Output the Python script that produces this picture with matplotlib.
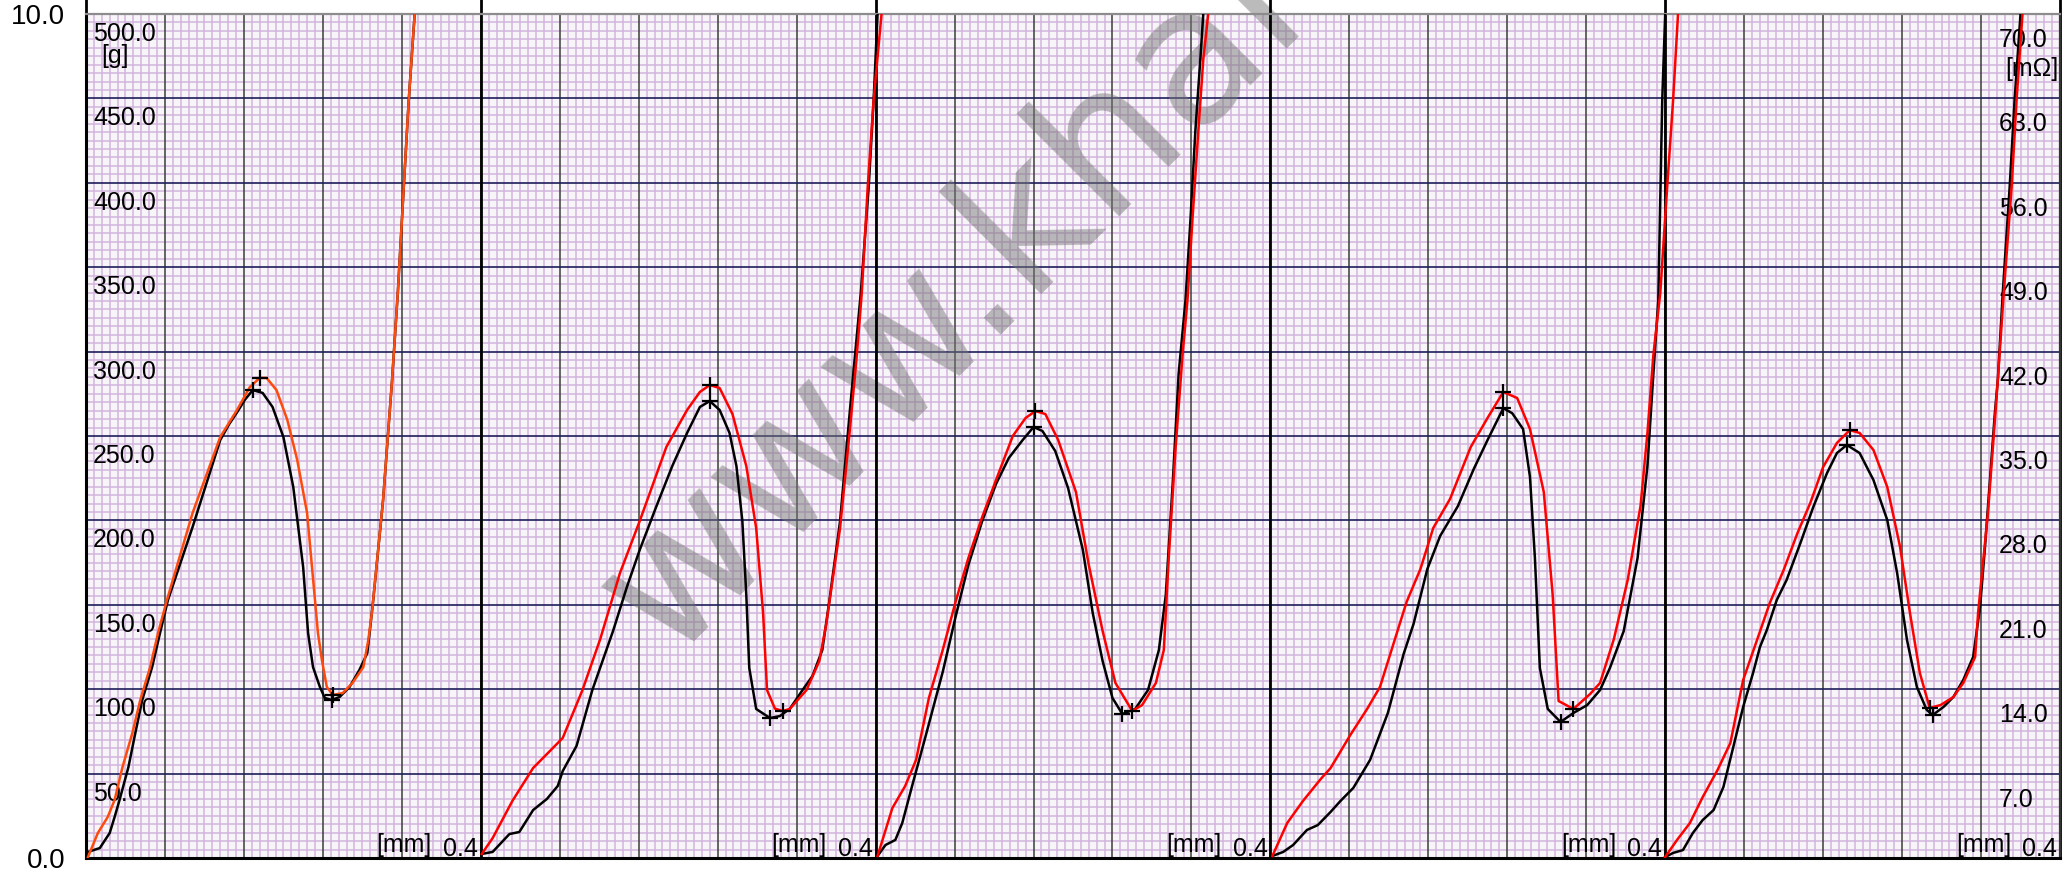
"""Five-cycle force / contact-resistance trace on millimetre paper.

Output: out.png (2067 x 877)
"""

import matplotlib.pyplot as plt
import numpy as np
from matplotlib.ticker import FuncFormatter, MultipleLocator

W, H, DPI = 2067, 877, 100
PANEL_MM = 0.4

# ---- data: stroke [mm] vs force [g], one black and one red trace per panel ----
P1_BLACK_X = [0.002, 0.014, 0.024, 0.029, 0.034, 0.043, 0.050, 0.057, 0.067, 0.075, 0.083, 0.108, 0.136,
              0.145, 0.153, 0.161, 0.169, 0.179, 0.189, 0.200, 0.210, 0.220, 0.225, 0.230, 0.237, 0.242,
              0.249, 0.257, 0.267, 0.277, 0.285, 0.288, 0.291, 0.301, 0.310, 0.316, 0.322, 0.327, 0.333]
P1_BLACK_Y = [3.6, 5.9, 14.8, 24.3, 34.4, 53.9, 74.1, 93.6, 113.1, 133.3, 152.8, 196.1, 247.6,
              257.0, 264.0, 271.5, 277.2, 275.5, 267.2, 249.4, 219.8, 172.4, 133.3, 113.1, 101.3, 94.8,
              93.6, 95.4, 101.3, 111.4, 121.4, 136.8, 152.8, 212.1, 282.3, 335.7, 398.1, 449.0, 500.0]
P1_RED_X = [0.002, 0.012, 0.022, 0.029, 0.037, 0.047, 0.055, 0.065, 0.073, 0.082, 0.108, 0.136, 0.153,
            0.166, 0.176, 0.183, 0.193, 0.204, 0.214, 0.224, 0.232, 0.235, 0.239, 0.244, 0.250, 0.260,
            0.270, 0.281, 0.286, 0.290, 0.293, 0.301, 0.310, 0.316, 0.322, 0.327, 0.333]
P1_RED_Y = [0.6, 14.8, 24.3, 34.4, 53.9, 74.1, 93.6, 113.1, 133.3, 152.8, 204.4, 249.4, 265.4,
            279.0, 284.4, 284.4, 277.2, 259.5, 235.8, 204.4, 152.8, 133.3, 117.3, 101.3, 96.6, 97.7,
            103.7, 113.1, 129.1, 146.9, 165.0, 212.1, 282.3, 335.7, 398.1, 449.0, 500.0]

P2_BLACK_X = [0.001, 0.012, 0.029, 0.039, 0.053, 0.067, 0.078, 0.083, 0.097, 0.113, 0.134, 0.148, 0.161,
              0.178, 0.194, 0.209, 0.222, 0.232, 0.242, 0.252, 0.259, 0.265, 0.269, 0.272, 0.279, 0.293,
              0.303, 0.313, 0.326, 0.336, 0.346, 0.353, 0.364, 0.374, 0.385, 0.393, 0.398, 0.402]
P2_BLACK_Y = [2.4, 3.6, 14.2, 15.4, 28.4, 35.0, 42.7, 51.5, 66.4, 99.5, 134.5, 160.5, 182.5,
              208.5, 232.2, 251.8, 267.2, 270.7, 265.4, 251.8, 232.2, 199.6, 155.8, 112.6, 88.3, 82.9,
              84.1, 88.3, 99.5, 107.8, 123.2, 151.7, 199.6, 265.4, 334.7, 397.5, 449.0, 500.0]
P2_RED_X = [0.001, 0.012, 0.032, 0.053, 0.083, 0.103, 0.121, 0.141, 0.161, 0.188, 0.209, 0.222, 0.232,
            0.242, 0.255, 0.269, 0.279, 0.286, 0.290, 0.298, 0.306, 0.313, 0.330, 0.343, 0.350, 0.364,
            0.374, 0.381, 0.386, 0.392, 0.398, 0.406]
P2_RED_Y = [2.4, 11.8, 33.8, 53.3, 71.1, 99.5, 129.7, 168.8, 199.6, 243.5, 265.4, 276.1, 280.2,
            278.4, 263.0, 232.2, 195.5, 145.1, 99.5, 88.5, 87.1, 88.3, 99.5, 116.7, 138.6, 195.5,
            254.1, 298.0, 334.7, 397.5, 449.0, 500.0]

P3_BLACK_X = [0.002, 0.010, 0.020, 0.027, 0.037, 0.051, 0.068, 0.081, 0.094, 0.108, 0.122, 0.135, 0.149,
              0.160, 0.169, 0.182, 0.195, 0.210, 0.220, 0.230, 0.240, 0.250, 0.263, 0.276, 0.287, 0.294,
              0.301, 0.307, 0.314, 0.319, 0.324, 0.329, 0.332]
P3_BLACK_Y = [1.2, 7.7, 10.7, 20.7, 42.7, 72.9, 110.2, 142.8, 173.6, 199.6, 221.6, 237.0, 247.6,
              255.3, 253.0, 241.1, 219.2, 182.5, 145.1, 116.7, 94.8, 85.3, 88.3, 99.5, 123.2, 155.8,
              221.6, 286.7, 330.6, 378.0, 431.0, 473.0, 500.0]
P3_RED_X = [0.002, 0.017, 0.030, 0.041, 0.054, 0.068, 0.081, 0.094, 0.108, 0.122, 0.139, 0.152, 0.162,
            0.172, 0.185, 0.203, 0.216, 0.230, 0.243, 0.260, 0.270, 0.284, 0.292, 0.297, 0.304, 0.311,
            0.316, 0.321, 0.327, 0.332, 0.337]
P3_RED_Y = [1.2, 29.6, 42.7, 58.1, 94.8, 123.2, 151.7, 177.7, 202.0, 223.9, 250.0, 260.7, 264.8,
            263.0, 247.6, 216.8, 173.6, 134.5, 103.7, 87.1, 90.6, 103.7, 123.2, 177.7, 243.5, 298.0,
            330.6, 378.0, 431.0, 473.0, 500.0]

P4_BLACK_X = [0.002, 0.013, 0.023, 0.037, 0.048, 0.061, 0.071, 0.084, 0.101, 0.119, 0.135, 0.145, 0.159,
              0.172, 0.190, 0.206, 0.220, 0.236, 0.245, 0.256, 0.263, 0.268, 0.273, 0.281, 0.294, 0.307,
              0.321, 0.334, 0.344, 0.358, 0.372, 0.382, 0.388, 0.393, 0.395, 0.397, 0.400]
P4_BLACK_Y = [1.2, 3.6, 7.7, 16.6, 19.5, 27.3, 33.8, 41.5, 58.1, 85.9, 120.9, 138.6, 171.2,
              190.8, 208.5, 230.4, 247.6, 266.5, 263.5, 254.1, 225.7, 177.7, 112.6, 88.3, 80.6, 85.9,
              90.6, 99.5, 112.6, 134.5, 177.7, 232.2, 286.7, 330.6, 390.0, 449.0, 500.0]
P4_RED_X = [0.002, 0.017, 0.033, 0.051, 0.061, 0.081, 0.098, 0.111, 0.124, 0.138, 0.152, 0.165, 0.182,
            0.203, 0.220, 0.236, 0.250, 0.263, 0.277, 0.286, 0.292, 0.307, 0.324, 0.334, 0.348, 0.362,
            0.375, 0.382, 0.388, 0.395, 0.402, 0.408, 0.413]
P4_RED_Y = [1.2, 20.7, 33.8, 46.8, 53.3, 72.9, 88.3, 101.3, 125.6, 151.7, 171.2, 195.5, 212.7,
            243.5, 260.7, 276.1, 272.5, 254.1, 216.8, 155.8, 93.0, 88.3, 97.2, 103.7, 129.7, 164.7,
            208.5, 251.8, 298.0, 334.7, 397.5, 449.0, 500.0]

P5_BLACK_X = [0.000, 0.008, 0.018, 0.028, 0.038, 0.049, 0.059, 0.069, 0.079, 0.089, 0.096, 0.103, 0.113,
              0.123, 0.137, 0.150, 0.164, 0.174, 0.184, 0.197, 0.211, 0.225, 0.235, 0.245, 0.255, 0.265,
              0.271, 0.282, 0.292, 0.302, 0.312, 0.319, 0.324, 0.329, 0.334, 0.337, 0.342, 0.349, 0.354,
              0.360]
P5_BLACK_Y = [0.6, 3.0, 4.7, 14.8, 22.5, 28.4, 42.1, 65.8, 89.5, 109.6, 125.0, 135.1, 152.8,
              164.7, 186.6, 207.9, 228.1, 239.9, 244.7, 239.9, 223.9, 200.2, 168.8, 129.1, 101.3, 87.7,
              84.7, 89.5, 95.4, 105.5, 119.1, 148.7, 184.2, 223.9, 263.6, 283.2, 334.7, 397.5, 449.0,
              500.0]
P5_RED_X = [0.000, 0.012, 0.025, 0.038, 0.053, 0.066, 0.079, 0.093, 0.106, 0.120, 0.134, 0.147, 0.160,
            0.174, 0.187, 0.197, 0.211, 0.225, 0.238, 0.248, 0.258, 0.268, 0.279, 0.292, 0.302, 0.314,
            0.317, 0.322, 0.327, 0.332, 0.337, 0.343, 0.351, 0.356, 0.362]
P5_RED_Y = [0.6, 10.7, 20.7, 36.1, 52.1, 68.1, 105.5, 129.1, 151.1, 170.6, 192.5, 210.3, 231.6,
            245.9, 253.5, 251.8, 241.7, 219.8, 184.2, 145.1, 109.6, 88.9, 90.6, 95.4, 103.7, 119.1,
            145.1, 174.8, 204.4, 243.5, 283.2, 334.7, 397.5, 449.0, 500.0]

LEFT_VALUES = [500, 450, 400, 350, 300, 250, 200, 150, 100, 50]
LEFT_LABELS = ["500.0", "450.0", "400.0", "350.0", "300.0", "250.0", "200.0", "150.0", "100.0", "50.0"]
RIGHT_LABELS = ["70.0", "63.0", "56.0", "49.0", "42.0", "35.0", "28.0", "21.0", "14.0", "7.0"]
WATERMARK = "www.khar"

PANELS = [
    (P1_BLACK_X, P1_BLACK_Y, P1_RED_X, P1_RED_Y),
    (P2_BLACK_X, P2_BLACK_Y, P2_RED_X, P2_RED_Y),
    (P3_BLACK_X, P3_BLACK_Y, P3_RED_X, P3_RED_Y),
    (P4_BLACK_X, P4_BLACK_Y, P4_RED_X, P4_RED_Y),
    (P5_BLACK_X, P5_BLACK_Y, P5_RED_X, P5_RED_Y),
]
RED_COLORS = ["#ff4a0e", "#ff0000", "#ff0000", "#ff0000", "#ff0000"]
LABEL_FONT = dict(family="Liberation Sans", fontsize=18)


def pt(px):
    """pixels -> points for offsets"""
    return px * 72 / DPI


def extremes(x, y):
    x, y = np.asarray(x), np.asarray(y)
    top = np.maximum.accumulate(y)
    fall = np.flatnonzero(top - y > 60)[0]  # curve has clearly come off the hump
    i_pk = int(np.argmax(y[:fall]))
    i_vl = fall + int(np.argmin(y[fall:]))
    return [x[i_pk], x[i_vl]], [y[i_pk], y[i_vl]]


plt.rcParams["font.family"] = "DejaVu Sans"
fig = plt.figure(figsize=(W / DPI, H / DPI), dpi=DPI)
ax = fig.add_axes([86 / W, 19 / H, 1974 / W, 844 / H])
n = len(PANELS)
ax.set_xlim(0, n * PANEL_MM)
ax.set_ylim(0, 500)
ax.set_facecolor("#f8f5f9")

# millimetre paper: fine lilac grid, then the heavier lines on top of it
ax.xaxis.set_major_locator(MultipleLocator(0.08))
ax.xaxis.set_minor_locator(MultipleLocator(0.008))
ax.yaxis.set_major_locator(MultipleLocator(50))
ax.yaxis.set_minor_locator(MultipleLocator(5))
ax.set_axisbelow(True)
ax.grid(which="minor", color="#d3b4dd", linewidth=1.1)
for xv in np.arange(0.08, n * PANEL_MM, 0.08):
    ax.axvline(xv, color="#3c3c3c", linewidth=1.1, zorder=1)
for yv in range(50, 500, 50):
    ax.axhline(yv, color="#1e1e5a", linewidth=1.2, zorder=1)

ax.tick_params(which="both", length=0)
ax.tick_params(axis="x", labelbottom=False)
ax.tick_params(axis="y", pad=pt(21), labelsize=20)
ax.yaxis.set_major_formatter(FuncFormatter(lambda v, _: f"{v / 50:.1f}" if round(v) in (0, 500) else ""))
for lab in ax.get_yticklabels():
    lab.set_family("Liberation Sans")

for side in ("left", "bottom"):
    ax.spines[side].set_color("black")
    ax.spines[side].set_linewidth(2.2)
ax.spines["top"].set_color("#8c8c8c")
ax.spines["top"].set_linewidth(1.6)
ax.spines["right"].set_color("#333333")
ax.spines["right"].set_linewidth(1.6)

# panel separators run up to the top of the sheet
for k in range(n + 1):
    ax.axvline(k * PANEL_MM, ymin=0, ymax=1.02, color="black", linewidth=2.0, clip_on=False, zorder=2.5)

ax.text(0.462, 0.625, WATERMARK, transform=ax.transAxes, ha="center", va="baseline",
        rotation=45, rotation_mode="anchor", fontsize=137, color="#777777", alpha=0.5,
        zorder=2.2, clip_on=False)

for k, (bx, by, rx, ry) in enumerate(PANELS):
    off = k * PANEL_MM
    ax.plot(np.asarray(bx) + off, by, color="black", linewidth=1.8, zorder=3)
    ax.plot(np.asarray(rx) + off, ry, color=RED_COLORS[k], linewidth=1.8, zorder=4)
    for xs, ys in (extremes(bx, by), extremes(rx, ry)):
        ax.plot(np.asarray(xs) + off, ys, linestyle="none", marker="+", markersize=11,
                markeredgewidth=1.6, color="black", zorder=5)
    xe = (k + 1) * PANEL_MM
    ax.annotate("0.4", xy=(xe, 0), xytext=(pt(-3), pt(2)), textcoords="offset points",
                ha="right", va="baseline", zorder=2.6, **LABEL_FONT)
    ax.annotate("[mm]", xy=(xe, 0), xytext=(pt(-49), pt(6)), textcoords="offset points",
                ha="right", va="baseline", zorder=2.6, **LABEL_FONT)

# inner scales: force on the left, resistance on the right
for v, lab, rlab in zip(LEFT_VALUES, LEFT_LABELS, RIGHT_LABELS):
    ax.annotate(lab, xy=(0, v), xytext=(pt(7), pt(-8)), textcoords="offset points",
                ha="left", va="top", zorder=2.6, **LABEL_FONT)
    ax.annotate(rlab, xy=(n * PANEL_MM, v), xytext=(pt(-61), pt(-14)), textcoords="offset points",
                ha="left", va="top", zorder=2.6, **LABEL_FONT)
ax.annotate("[g]", xy=(0, 500), xytext=(pt(29), pt(-30)), textcoords="offset points",
            ha="center", va="top", zorder=2.6, **LABEL_FONT)
ax.annotate("[m\u03a9]", xy=(n * PANEL_MM, 500), xytext=(pt(-55), pt(-43)), textcoords="offset points",
            ha="left", va="top", zorder=2.6, **LABEL_FONT)

fig.savefig("out.png", dpi=DPI)
